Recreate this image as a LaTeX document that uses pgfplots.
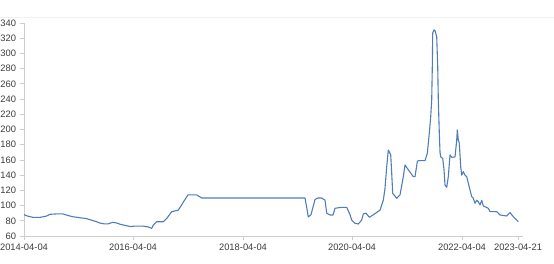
\documentclass[border=0pt]{standalone}
\usepackage{pgfplots}
\pgfplotsset{compat=1.18}
\usepackage{pgfplotstable}
\usepackage{fontspec}
\setmainfont{Liberation Sans}
\definecolor{lineblue}{RGB}{80,124,186}
\definecolor{axgray}{RGB}{205,205,205}
\definecolor{txtgray}{RGB}{60,60,60}
\definecolor{topgray}{RGB}{240,240,240}
\pgfplotstableread{
x y
24 88
28 86
33 84.5
40 84.5
46 86
50 88.5
56 89
63 89
68 87
72 85.5
80 84
86 83
90 81.5
96 79
100 77
104 76
108 76
113 78
117 77
120 75.5
125 74
130 72.5
135 73
143 73
148 72
151.7 70
153.3 74.5
156.7 78.8
163.3 78.8
166.7 83
171.7 92
178.3 94
181.7 101
184 106
188 114
196.7 114
201.7 110
305 110
307 95
308.3 85
311 88
315 108
318 110
321.7 110
325 107
326.7 90
330 87.6
333 87.6
335 96.4
340 97.5
346.7 97.7
348 94
350 88
351.7 81
355 76.7
358.3 75.8
361.7 81
363.3 89
366 90
369.3 84.6
373 87.6
380 94
383.3 107
385 122.7
386.7 151
388.3 173
390.7 166.6
391.7 142.5
392.7 116
396.7 109.6
400 114
403.3 138
405 153.4
408.3 147
413.3 138
415 138
417.3 157.8
418.3 159
425 159
427.3 168.8
429.3 195
430.7 217
431.7 239
432.3 283
432.7 327
434 331
435 330
436.7 322
437.7 283
438.3 239
439.3 195
440 170
440.7 164
442.7 162
444 147
445 127
446.7 124
448.3 138
450 166.6
451.7 163.5
455 164
456.7 186
457.3 199.5
458.3 186
459.3 182
460.7 151
461.7 140
463.3 144.6
465 140
466.7 138
470 120.5
471.7 111.7
473.3 109.6
475 103
476.7 107
478.3 105
480 100.8
481.7 107
483.3 99.5
488.3 96.4
490 92
496.7 92
500 87.6
506.7 86.3
510 90.7
513.3 85.4
518.3 78.8
}\mydata
\begin{document}
\begin{tikzpicture}[x=1bp,y=1bp]
\path[use as bounding box] (0,0) rectangle (554,263);
\draw[topgray, line width=0.6bp] (0,246) -- (554,246);
\begin{axis}[
  at={(24bp,27bp)}, anchor=south west,
  scale only axis, width=499bp, height=213bp,
  xmin=24, xmax=523, ymin=60, ymax=340,
  axis x line=bottom, axis y line=left,
  axis line style={draw=axgray, line width=0.8bp, -},
  xtick={24,133,243,352,462,518},
  xticklabels={2014-04-04,2016-04-04,2018-04-04,2020-04-04,2022-04-04,2023-04-21},
  ytick={60,80,...,340},
  tick align=outside,
  major tick length=3.5bp,
  tick style={draw=axgray, line width=0.8bp},
  ticklabel style={font=\fontsize{9.4}{10}\selectfont, text=txtgray},
  /pgf/number format/assume math mode=true,
  yticklabel style={xshift=-1bp},
  xticklabel style={yshift=-1bp},
  clip=false,
]
\addplot[lineblue, line width=1.1bp, line join=round] table[x=x,y=y] {\mydata};
\end{axis}
\end{tikzpicture}
\end{document}
